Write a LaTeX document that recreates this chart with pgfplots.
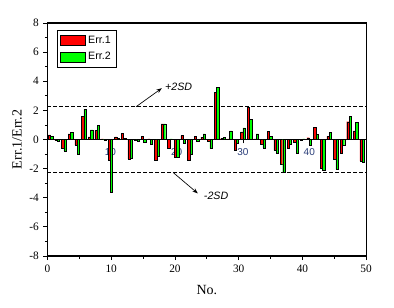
\documentclass[border=0pt]{standalone}
\usepackage{fontspec}
\setmainfont{Liberation Serif}
\newfontfamily\arial{Liberation Sans}
\usepackage{pgfplots}
\usepackage{pgfplotstable}
\pgfplotsset{compat=1.18}
\usetikzlibrary{arrows.meta}
\definecolor{navy}{RGB}{40,60,120}

\pgfplotstableread{
k e1 e2
1 0.32 0.23
2 -0.07 -0.10
3 -0.62 -0.80
4 0.39 0.50
5 -0.39 -0.98
6 1.58 2.07
7 0.18 0.66
8 0.62 0.96
9 0.05 -0.05
10 -1.45 -3.62
11 0.18 0.10
12 0.41 0.07
13 -1.33 -1.30
14 -0.05 -0.10
15 0.20 -0.18
16 0.05 -0.30
17 -1.42 -1.15
18 1.08 1.08
19 -0.62 0.05
20 -1.19 -1.19
21 0.27 -0.23
22 -1.44 -1.03
23 0.23 -0.14
24 0.16 0.39
25 -0.11 -0.62
26 3.25 3.60
27 0.08 0.16
28 0.05 0.60
29 -0.75 -0.23
30 0.53 0.80
31 2.20 1.40
32 0.05 0.39
33 -0.34 -0.57
34 0.57 0.20
35 -0.75 -0.92
36 -1.67 -2.22
37 -0.62 -0.34
38 -0.18 -0.92
39 -0.08 0.05
40 0.12 -0.41
41 0.85 0.36
42 -2.00 -2.08
43 0.22 0.48
44 -1.35 -2.05
45 -0.94 -0.40
46 1.22 1.60
47 0.60 1.16
48 -1.49 -1.55
}\errdata

\begin{document}
\begin{tikzpicture}
\path[use as bounding box] (-35.625pt,-39pt) rectangle (259.875pt,192pt);
% outer axis: frame, ticks, labels, reference lines
\begin{axis}[
  at={(0,0)}, anchor=south west,
  scale only axis, width=239pt, height=174.75pt,
  xmin=0, xmax=50, ymin=-8, ymax=8,
  xtick={0,10,...,50}, minor x tick num=1,
  ytick={-8,-6,...,8}, minor y tick num=1,
  tick align=outside, xtick pos=left, ytick pos=left,
  major tick length=3pt, minor tick length=2pt,
  tick style={black, line width=0.6pt},
  axis line style={line width=0.8pt},
  /pgf/number format/assume math mode=true,
  ticklabel style={font=\fontsize{8.5}{10}\selectfont},
  xlabel={No.}, ylabel={Err.1/Err.2},
  label style={font=\fontsize{10.5}{12}\selectfont},
  xlabel style={at={(axis description cs:0.5,-0.146)}, anchor=center},
  ylabel style={at={(axis description cs:-0.0954,0.5)}, anchor=center},
]
\addplot[black, line width=0.6pt, dash pattern=on 2.5pt off 2pt] coordinates {(0,2.24) (50,2.24)};
\addplot[black, line width=0.6pt, dash pattern=on 2.5pt off 2pt] coordinates {(0,-2.24) (50,-2.24)};
\draw[-{Stealth[length=4pt,width=3pt]}, line width=0.5pt] (axis cs:13.9,2.25) -- (axis cs:17.93,3.52);
\node[anchor=west, font=\arial\itshape\fontsize{8}{9}\selectfont, inner sep=1pt] at (axis cs:18.2,3.62) {+2SD};
\draw[-{Stealth[length=4pt,width=3pt]}, line width=0.5pt] (axis cs:19.75,-2.28) -- (axis cs:23.58,-3.7);
\node[anchor=west, font=\arial\itshape\fontsize{8}{9}\selectfont, inner sep=1pt] at (axis cs:24.3,-3.85) {-2SD};
\end{axis}
% inner axis: bars with their own x scale
\begin{axis}[
  at={(0,0)}, anchor=south west,
  scale only axis, width=239pt, height=174.75pt,
  xmin=0.524, xmax=48.58, ymin=-8, ymax=8,
  axis x line=middle, axis y line=none,
  axis line style={-, line width=0.7pt, black},
  xtick={10,20,30,40}, tick align=outside, major tick length=3pt,
  xtick style={black, line width=0.5pt},
  /pgf/number format/assume math mode=true,
  xticklabel style={font=\arial\fontsize{7.5}{9}\selectfont, text=navy},
  ybar, bar width=0.35,
  legend image code/.code={\draw[#1] (0pt,-3.6pt) rectangle (18.75pt,3.6pt);},
  legend style={at={(0.03,0.97)}, anchor=north west, draw=black, line width=0.6pt,
    font=\arial\fontsize{8}{9}\selectfont, row sep=1.5pt, inner sep=2pt},
]
\addplot[fill=red, draw=black, line width=0.3pt, bar shift=-0.175] table[x=k,y=e1]{\errdata};
\addplot[fill=green, draw=black, line width=0.3pt, bar shift=0.175] table[x=k,y=e2]{\errdata};
\legend{Err.1, Err.2}
\end{axis}
\end{tikzpicture}
\end{document}
